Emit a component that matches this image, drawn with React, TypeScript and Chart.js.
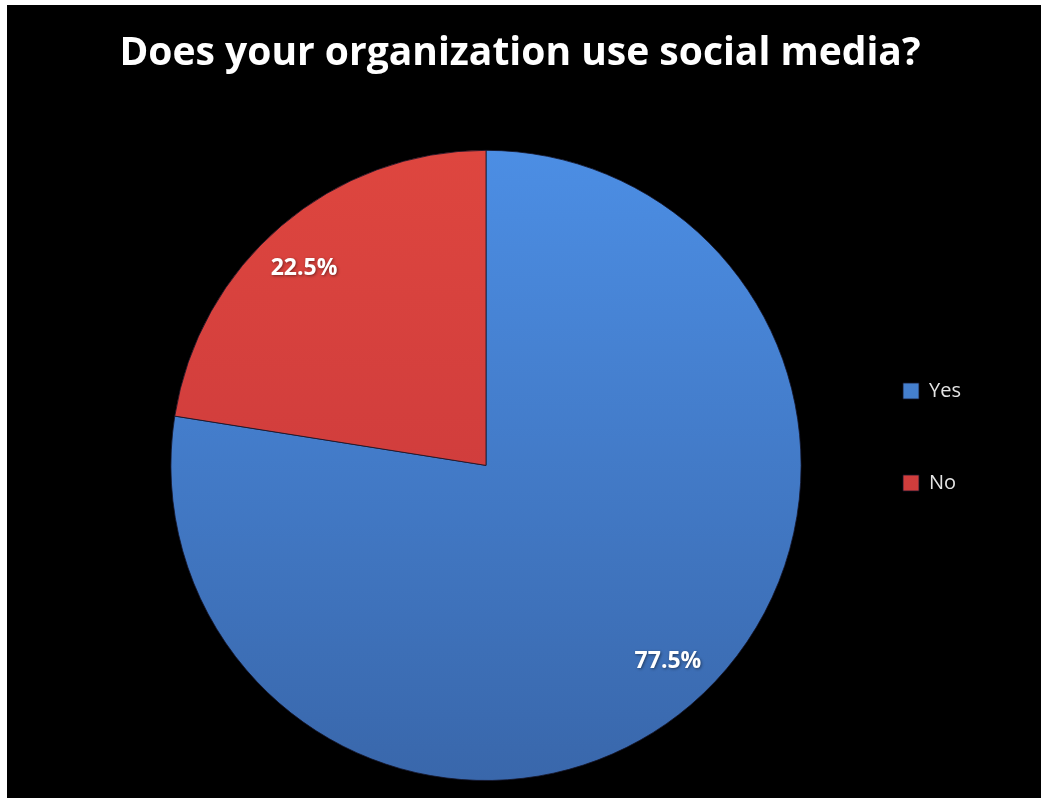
import React, { useEffect, useRef } from "react";
import { Chart, registerables } from "chart.js";

Chart.register(...registerables);

const titleText = "Does your organization use social media?";
const categories = ["Yes", "No"];
const shareValues = [77.5, 22.5];
const topColors = ["#4c8ee4", "#de463f"];
const bottomColors = ["#3967ab", "#c4353a"];

const labelPlugin = {
  id: "sliceLabels",
  afterDatasetsDraw(chart: any) {
    const ctx = chart.ctx;
    const meta = chart.getDatasetMeta(0);
    ctx.save();
    ctx.font = "bold 23px 'Open Sans', sans-serif";
    ctx.textAlign = "center";
    ctx.textBaseline = "middle";
    meta.data.forEach((arc: any, i: number) => {
      const p = arc.getProps(["x", "y", "startAngle", "endAngle", "outerRadius"], true);
      const mid = (p.startAngle + p.endAngle) / 2 - 0.04;
      const r = p.outerRadius * 0.85;
      const x = p.x + Math.cos(mid) * r;
      const y = p.y + Math.sin(mid) * r;
      ctx.shadowColor = "rgba(0,0,0,0.45)";
      ctx.shadowBlur = 3;
      ctx.shadowOffsetX = 1;
      ctx.shadowOffsetY = 1;
      ctx.fillStyle = "#ffffff";
      ctx.fillText(shareValues[i].toFixed(1) + "%", x, y);
    });
    ctx.restore();
  },
};

const layoutTweakPlugin = {
  id: "layoutTweak",
  afterLayout(chart: any) {
    const lg = chart.legend;
    if (lg) {
      lg.top += 74;
      lg.bottom += 14;
      lg.left += 8;
      lg.right = chart.width;
      lg.width = lg.right - lg.left;
    }
    const tb = chart.titleBlock;
    if (tb) {
      tb.left -= 110;
      tb.right += 110;
      tb.width = tb.right - tb.left;
    }
  },
};

const bgPlugin = {
  id: "bg",
  beforeDraw(chart: any) {
    const ctx = chart.ctx;
    ctx.save();
    ctx.fillStyle = "#000000";
    ctx.fillRect(0, 0, chart.width, chart.height);
    ctx.restore();
  },
};

export default function App() {
  const ref = useRef<HTMLCanvasElement | null>(null);

  useEffect(() => {
    document.body.style.margin = "0";
    document.body.style.background = "#ffffff";
    if (!ref.current) return;
    const chart = new Chart(ref.current, {
      type: "pie",
      data: {
        labels: categories,
        datasets: [
          {
            data: shareValues,
            backgroundColor: (c: any) => {
              const area = c.chart.chartArea;
              const i = c.dataIndex;
              if (!area) return topColors[i];
              const g = c.chart.ctx.createLinearGradient(0, area.top, 0, area.bottom);
              g.addColorStop(0, topColors[i]);
              g.addColorStop(1, bottomColors[i]);
              return g;
            },
            borderColor: "rgba(20,20,40,0.8)",
            borderWidth: 1,
          },
        ],
      },
      options: {
        responsive: false,
        animation: false,
        layout: { padding: { left: 142, right: 150, top: 0, bottom: 17 } },
        plugins: {
          title: {
            display: true,
            text: titleText,
            color: "#ffffff",
            font: { family: "'Open Sans', sans-serif", size: 39, weight: "bold" },
            padding: { top: 25, bottom: 73 },
          },
          legend: {
            position: "right",
            maxWidth: 68,
            labels: {
              color: "#e4e4e4",
              font: { family: "'Open Sans', sans-serif", size: 20 },
              boxWidth: 16,
              boxHeight: 16,
              padding: 72,
            },
          },
          tooltip: { enabled: false },
        },
      },
      plugins: [bgPlugin, labelPlugin, layoutTweakPlugin],
    });
    return () => chart.destroy();
  }, []);

  return (
    <div style={{ paddingLeft: 7, paddingTop: 5, background: "#ffffff" }}>
      <div style={{ width: 1034, height: 793, background: "#000000" }}>
        <canvas ref={ref} width={1034} height={793} style={{ display: "block" }} />
      </div>
    </div>
  );
}
